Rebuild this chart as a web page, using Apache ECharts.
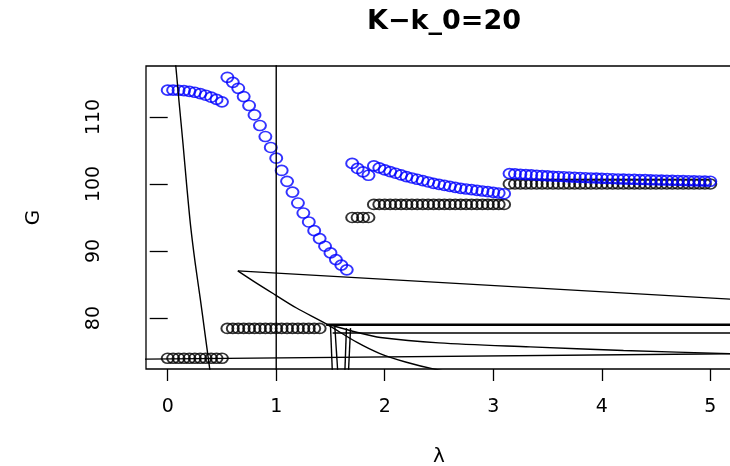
<!DOCTYPE html>
<html>
<head>
<meta charset="utf-8">
<script src="https://cdn.jsdelivr.net/npm/echarts@6/dist/echarts.min.js"></script>
<style>
  html, body { margin: 0; padding: 0; background: #fff; }
  #chart-container { width: 730px; height: 466px; }
</style>
</head>
<body>
<div id="chart-container"></div>
<script>
// lambda grid, one array per run of points
var lamS1 = [0, 0.05, 0.1, 0.15, 0.2, 0.25, 0.3, 0.35, 0.4, 0.45, 0.5];
var lamS2 = [0.55, 0.6, 0.65, 0.7, 0.75, 0.8, 0.85, 0.9, 0.95, 1.0, 1.05, 1.1,
  1.15, 1.2, 1.25, 1.3, 1.35, 1.4, 1.45, 1.5, 1.55, 1.6, 1.65];
var lamS3 = [1.7, 1.75, 1.8, 1.85];
var lamS4 = [1.9, 1.95, 2.0, 2.05, 2.1, 2.15, 2.2, 2.25, 2.3, 2.35, 2.4, 2.45,
  2.5, 2.55, 2.6, 2.65, 2.7, 2.75, 2.8, 2.85, 2.9, 2.95, 3.0, 3.05, 3.1];
var lamS5 = [3.15, 3.2, 3.25, 3.3, 3.35, 3.4, 3.45, 3.5, 3.55, 3.6, 3.65, 3.7,
  3.75, 3.8, 3.85, 3.9, 3.95, 4.0, 4.05, 4.1, 4.15, 4.2, 4.25, 4.3, 4.35, 4.4,
  4.45, 4.5, 4.55, 4.6, 4.65, 4.7, 4.75, 4.8, 4.85, 4.9, 4.95, 5.0];

// blue circles
var blueS1 = [114.0, 114.0, 113.98, 113.92, 113.82, 113.68, 113.48, 113.24, 112.95, 112.62, 112.25];
var blueS2 = [115.91, 115.16, 114.27, 113.04, 111.7, 110.3, 108.72, 107.08, 105.45, 103.85,
  102.02, 100.39, 98.79, 97.16, 95.67, 94.33, 93.04, 91.85, 90.71, 89.72, 88.72, 87.89, 87.19];
var blueS3 = [103.07, 102.32, 101.8, 101.3];
var blueS4 = [102.7, 102.4, 102.1, 101.85, 101.6, 101.35, 101.1, 100.9, 100.7, 100.5,
  100.3, 100.1, 99.95, 99.8, 99.65, 99.5, 99.35, 99.25, 99.15, 99.05, 98.95, 98.85,
  98.75, 98.65, 98.55];
var blueS5 = [101.55, 101.5, 101.45, 101.4, 101.35, 101.3, 101.25, 101.2, 101.16, 101.12,
  101.08, 101.04, 101.0, 100.96, 100.93, 100.9, 100.87, 100.84, 100.81, 100.78, 100.75,
  100.72, 100.7, 100.68, 100.66, 100.64, 100.62, 100.6, 100.58, 100.56, 100.54, 100.52,
  100.5, 100.48, 100.46, 100.44, 100.42, 100.4];

// black circles
var blackS1 = [74.0, 74.0, 74.0, 74.0, 74.0, 74.0, 74.0, 74.0, 74.0, 74.0, 74.0];
var blackS2 = [78.45, 78.45, 78.45, 78.45, 78.45, 78.45, 78.45, 78.45, 78.45, 78.45,
  78.45, 78.45, 78.45, 78.45, 78.45, 78.45, 78.45, 78.45];
var blackS3 = [95.0, 95.0, 95.0, 95.0];
var blackS4 = [96.95, 96.95, 96.95, 96.95, 96.95, 96.95, 96.95, 96.95, 96.95, 96.95,
  96.95, 96.95, 96.95, 96.95, 96.95, 96.95, 96.95, 96.95, 96.95, 96.95, 96.95, 96.95,
  96.95, 96.95, 96.95];
var blackS5 = [100, 100, 100, 100, 100, 100, 100, 100, 100, 100, 100, 100, 100, 100,
  100, 100, 100, 100, 100, 100, 100, 100, 100, 100, 100, 100, 100, 100, 100, 100, 100,
  100, 100, 100, 100, 100, 100, 100];

// curves and lines (lambda, G)
var curveSteep = [[0.05, 121.4], [0.074, 117.7], [0.105, 112.2], [0.141, 106.0], [0.175, 99.8],
  [0.212, 93.6], [0.255, 88.0], [0.3, 82.9], [0.345, 77.5], [0.387, 72.46], [0.415, 69.3]];
var lineVert = [[1, 60], [1, 125]];
var lineLong = [[0.646, 87.04], [5.3, 82.72]];
var curveDown = [[0.646, 87.04], [0.8, 85.4], [0.987, 83.5], [1.187, 81.5], [1.464, 79.1],
  [1.741, 76.4], [1.956, 74.7], [2.2, 73.4], [2.447, 72.41], [2.7, 71.7]];
var curveFlat = [[1.49, 79.0], [1.75, 77.85], [1.96, 77.1], [2.5, 76.3], [3.34, 75.7], [4.2, 75.15], [5.18, 74.7], [5.3, 74.66]];
var lineLow = [[-0.3, 73.86], [5.3, 74.7]];
var lineH79 = [[1.46, 79.0], [5.3, 79.0]];
var lineH78 = [[1.52, 77.77], [5.3, 77.77]];
var drops = [
  [[1.5, 78.9], [1.522, 70]],
  [[1.54, 78.7], [1.575, 70]],
  [[1.647, 78.5], [1.628, 70]],
  [[1.685, 78.5], [1.66, 70]]
];

var xTicks = [0, 1, 2, 3, 4, 5];
var yTicks = [80, 90, 100, 110];

function zip(xs, ys) {
  var out = [];
  for (var i = 0; i < ys.length; i++) out.push([xs[i], ys[i]]);
  return out;
}

var dom = document.getElementById("chart-container");
var myChart = echarts.init(dom, null, { renderer: "canvas" });
var font = "DejaVu Sans";

var blackPts = [].concat(zip(lamS1, blackS1), zip(lamS2, blackS2), zip(lamS3, blackS3),
  zip(lamS4, blackS4), zip(lamS5, blackS5));
var bluePts = [].concat(zip(lamS1, blueS1), zip(lamS2, blueS2), zip(lamS3, blueS3),
  zip(lamS4, blueS4), zip(lamS5, blueS5));

function circles(name, pts, col) {
  return {
    name: name,
    type: "scatter",
    data: pts,
    symbol: "circle",
    symbolSize: [12, 10],
    itemStyle: { color: "rgba(0,0,0,0)", borderColor: col, borderWidth: 1.8 },
    silent: true
  };
}

function line(pts, w, smooth) {
  return {
    type: "line",
    data: pts,
    showSymbol: false,
    symbol: "none",
    smooth: smooth || false,
    clip: true,
    lineStyle: { color: "#000", width: w || 1.4 },
    silent: true
  };
}

var series = [circles("black", blackPts, "#000"), circles("blue", bluePts, "#0000ff")];
series.push(line(curveSteep, 1.4, 0.3), line(lineVert), line(lineLong), line(curveDown, 1.4, 0.3),
  line(curveFlat, 1.4, 0.3), line(lineLow), line(lineH79, 2.6), line(lineH78));
drops.forEach(function (d) { series.push(line(d)); });

var option = {
  animation: false,
  backgroundColor: "#fff",
  title: {
    text: "K\u2212k_0=20",
    left: 439,
    top: 3,
    textAlign: "center",
    textStyle: { fontFamily: font, fontWeight: "bold", fontSize: 27, color: "#000" }
  },
  grid: {
    left: 146,
    top: 66,
    width: 586,
    height: 303,
    outerBoundsMode: "none",
    show: true,
    borderColor: "#000",
    borderWidth: 1.3,
    backgroundColor: "transparent"
  },
  xAxis: {
    type: "value",
    min: -0.2,
    max: 5.2,
    name: "\u03bb",
    nameLocation: "middle",
    nameGap: 78,
    nameTextStyle: { fontFamily: font, fontSize: 20, color: "#000" },
    axisLine: { show: false },
    splitLine: { show: false },
    axisTick: { show: true, length: 12, customValues: xTicks, lineStyle: { color: "#000", width: 1.3 } },
    axisLabel: { customValues: xTicks, margin: 29, fontFamily: font, fontSize: 19, color: "#000" }
  },
  yAxis: {
    type: "value",
    min: 72.4,
    max: 117.6,
    name: "G",
    nameLocation: "middle",
    nameRotate: 90,
    nameGap: 102,
    nameTextStyle: { fontFamily: font, fontSize: 20, color: "#000" },
    axisLine: { show: false },
    splitLine: { show: false },
    axisTick: { show: true, length: 18, customValues: yTicks, lineStyle: { color: "#000", width: 1.3 } },
    axisLabel: { customValues: yTicks, rotate: 90, margin: 42, fontFamily: font, fontSize: 19, color: "#000" }
  },
  series: series
};

if (option && typeof option === "object") {
  myChart.setOption(option, true);
}
</script>
</body>
</html>
